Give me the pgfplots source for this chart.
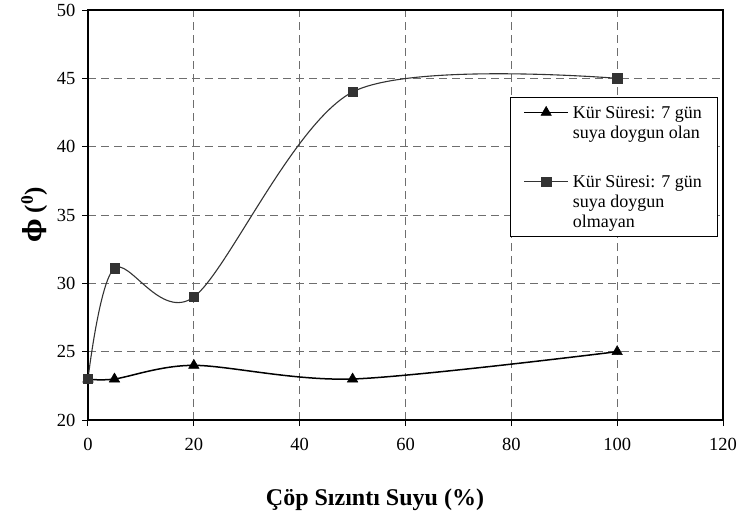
\documentclass[border=0pt]{standalone}
\usepackage{pgfplots}
\pgfplotsset{compat=1.18}
\usepackage{fontspec}
\setmainfont{Liberation Serif}
\newfontfamily\grk{DejaVu Serif}
\definecolor{sqgray}{HTML}{333333}
\definecolor{gridgray}{HTML}{6E6E6E}
\pgfplotsset{legimg/.style={legend image code/.code={\draw[##1, mark repeat=2, mark phase=2] plot coordinates {(0pt,#1) (22pt,#1) (44pt,#1)};}}}
\begin{document}
\begin{tikzpicture}
\path[use as bounding box] (-88pt,-97pt) rectangle (653pt,420pt);
\begin{axis}[
  scale only axis, width=635pt, height=410pt,
  xmin=0, xmax=120, ymin=20, ymax=50,
  xtick={0,20,...,120}, ytick={20,25,...,50},
  tick pos=left, tick align=outside, major tick length=6pt,
  tick style={black, line width=1pt},
  grid=major,
  grid style={gridgray, line width=0.9pt, dash pattern=on 8pt off 5pt},
  axis line style={black, line width=1.3pt},
  /pgf/number format/assume math mode=true,
  ticklabel style={font=\fontsize{18.5}{20}\selectfont},
  xticklabel style={yshift=-9pt},
  yticklabel style={xshift=-3pt},
  every axis x label/.style={at={([yshift=-85pt]axis description cs:0.452,0)}, anchor=base},
  every axis y label/.style={at={([xshift=-46pt]axis description cs:0,0.5)}, rotate=90, anchor=base},
  xlabel={\fontsize{24}{26}\selectfont\bfseries Çöp Sızıntı Suyu (\%)},
  ylabel={\fontsize{25}{26}\selectfont\bfseries {\grk ϕ} (\textsuperscript{0})},
  legend style={at={(axis description cs:0.6646,0.7878)}, anchor=north west,
    draw=black, line width=0.8pt, fill=white, inner xsep=13pt, inner ysep=5pt,
    font=\fontsize{18}{20}\selectfont, row sep=30pt, column sep=2pt,
    cells={anchor=base west}},
]
\addplot[black, line width=1.5pt, smooth, mark=triangle*, mark size=6pt, mark options={solid, fill=black, line width=0.5pt}, legimg=26pt]
  coordinates {(0,23) (5,23) (20,24) (50,23) (100,25)};
\addlegendentry{\begin{tabular}[b]{@{}l@{}}Kür Süresi: 7 gün\\suya doygun olan\end{tabular}}
\addplot[sqgray, line width=1.1pt, smooth, mark=square*, mark size=4.6pt, mark options={solid, fill=sqgray, line width=0.5pt}, legimg=46pt]
  coordinates {(0,23) (5,31.1) (20,29) (50,44) (100,45)};
\addlegendentry{\begin{tabular}[b]{@{}l@{}}Kür Süresi: 7 gün\\suya doygun\\olmayan\end{tabular}}
\end{axis}
\end{tikzpicture}
\end{document}
